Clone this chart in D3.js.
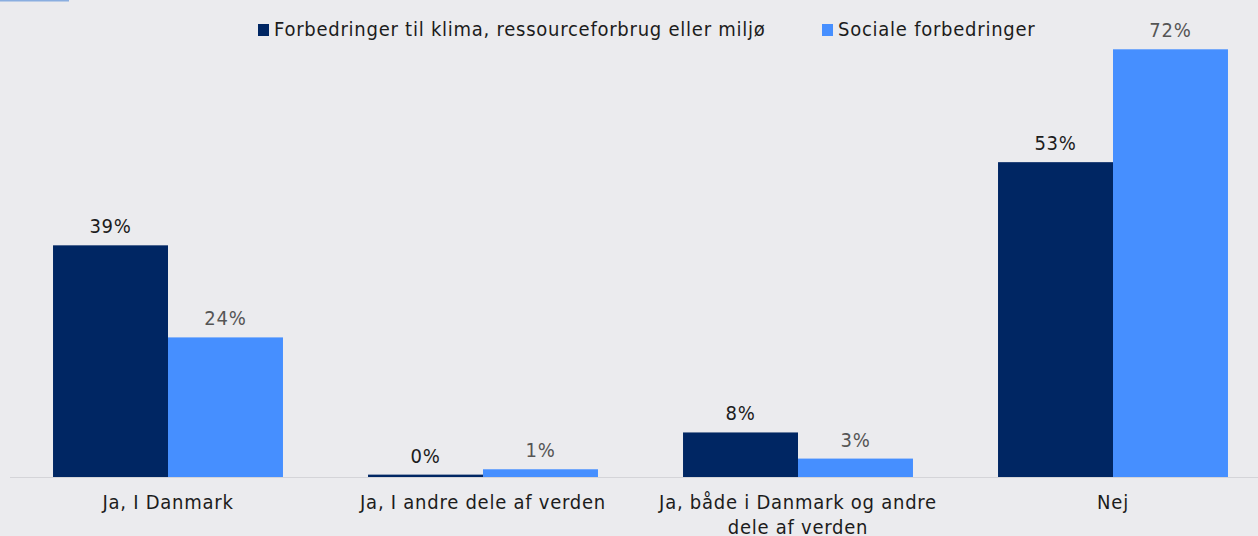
<!DOCTYPE html>
<html>
<head>
<meta charset="utf-8">
<script src="https://cdn.jsdelivr.net/npm/d3@7"></script>
<style>
  html, body { margin: 0; padding: 0; background: #ebebee; }
  svg text { font-family: "Liberation Sans Narrow", "DejaVu Sans Condensed", "Roboto", sans-serif; letter-spacing: 0.75px; }
</style>
</head>
<body>
<svg id="chart"></svg>
<script>
// categories and series
const categories = ["Ja, I Danmark", "Ja, I andre dele af verden", "Ja, både i Danmark og andre|dele af verden", "Nej"];
const seriesNames = ["Forbedringer til klima, ressourceforbrug eller miljø", "Sociale forbedringer"];
const klimaValues = [39, 0.4, 7.5, 53];
const socialValues = [23.5, 1.3, 3.1, 72];
const klimaLabels = ["39%", "0%", "8%", "53%"];
const socialLabels = ["24%", "1%", "3%", "72%"];

const colors = ["#002663", "#468fff"];
const labelColors = ["#1c1c1c", "#555555"];

const width = 1258, height = 536;
const baseY = 477;

let svg = d3.select("#chart")
    .attr("width", width)
    .attr("height", height);

svg.append("rect")
    .attr("width", width).attr("height", height)
    .attr("fill", "#ebebee");

// little accent line top left
svg.append("rect")
    .attr("x", 0).attr("y", 0)
    .attr("width", 69).attr("height", 1.5)
    .attr("fill", "#8aaee0");

let data = categories.map((c, i) => ({
    cat: c,
    vals: [
        {s: 0, v: klimaValues[i], label: klimaLabels[i]},
        {s: 1, v: socialValues[i], label: socialLabels[i]}
    ]
}));

let x0 = d3.scaleBand()
    .domain(categories)
    .range([10.5, 1270.5])
    .paddingInner(0.27)
    .paddingOuter(0.135);

let x1 = d3.scaleBand()
    .domain([0, 1])
    .range([0, x0.bandwidth()]);

let y = d3.scaleLinear()
    .domain([0, 72])
    .range([baseY, 49.3]);

// baseline
svg.append("line")
    .attr("x1", 10).attr("x2", width)
    .attr("y1", baseY + 0.5).attr("y2", baseY + 0.5)
    .attr("stroke", "#d4d4d8")
    .attr("stroke-width", 1.2);

let groups = svg.selectAll("g.group")
    .data(data)
    .enter().append("g")
    .attr("class", "group")
    .attr("transform", d => "translate(" + x0(d.cat) + ",0)");

groups.selectAll("rect")
    .data(d => d.vals)
    .enter().append("rect")
    .attr("x", d => x1(d.s))
    .attr("width", x1.bandwidth())
    .attr("y", d => y(d.v))
    .attr("height", d => baseY - y(d.v))
    .attr("fill", d => colors[d.s]);

groups.selectAll("text.val")
    .data(d => d.vals)
    .enter().append("text")
    .attr("class", "val")
    .attr("x", d => x1(d.s) + x1.bandwidth() / 2)
    .attr("y", d => y(d.v) - 12)
    .attr("text-anchor", "middle")
    .attr("font-size", 20)
    .attr("fill", d => labelColors[d.s])
    .text(d => d.label);

// category labels
let xAxis = svg.append("g");
categories.forEach(c => {
    let t = xAxis.append("text")
        .attr("x", x0(c) + x0.bandwidth() / 2)
        .attr("y", 509)
        .attr("text-anchor", "middle")
        .attr("font-size", 20)
        .attr("fill", "#1c1c1c");
    c.split("|").forEach((line, i) => {
        t.append("tspan")
            .attr("x", x0(c) + x0.bandwidth() / 2)
            .attr("dy", i === 0 ? 0 : 25)
            .text(line);
    });
});

// legend
let legendX = [258, 822];
let legend = svg.selectAll("g.legend")
    .data(seriesNames)
    .enter().append("g")
    .attr("class", "legend")
    .attr("transform", (d, i) => "translate(" + legendX[i] + ",24)");

legend.append("rect")
    .attr("width", 11).attr("height", 12)
    .attr("fill", (d, i) => colors[i]);

legend.append("text")
    .attr("x", 16)
    .attr("y", 12)
    .attr("font-size", 20)
    .attr("fill", "#1c1c1c")
    .text(d => d);
</script>
</body>
</html>
